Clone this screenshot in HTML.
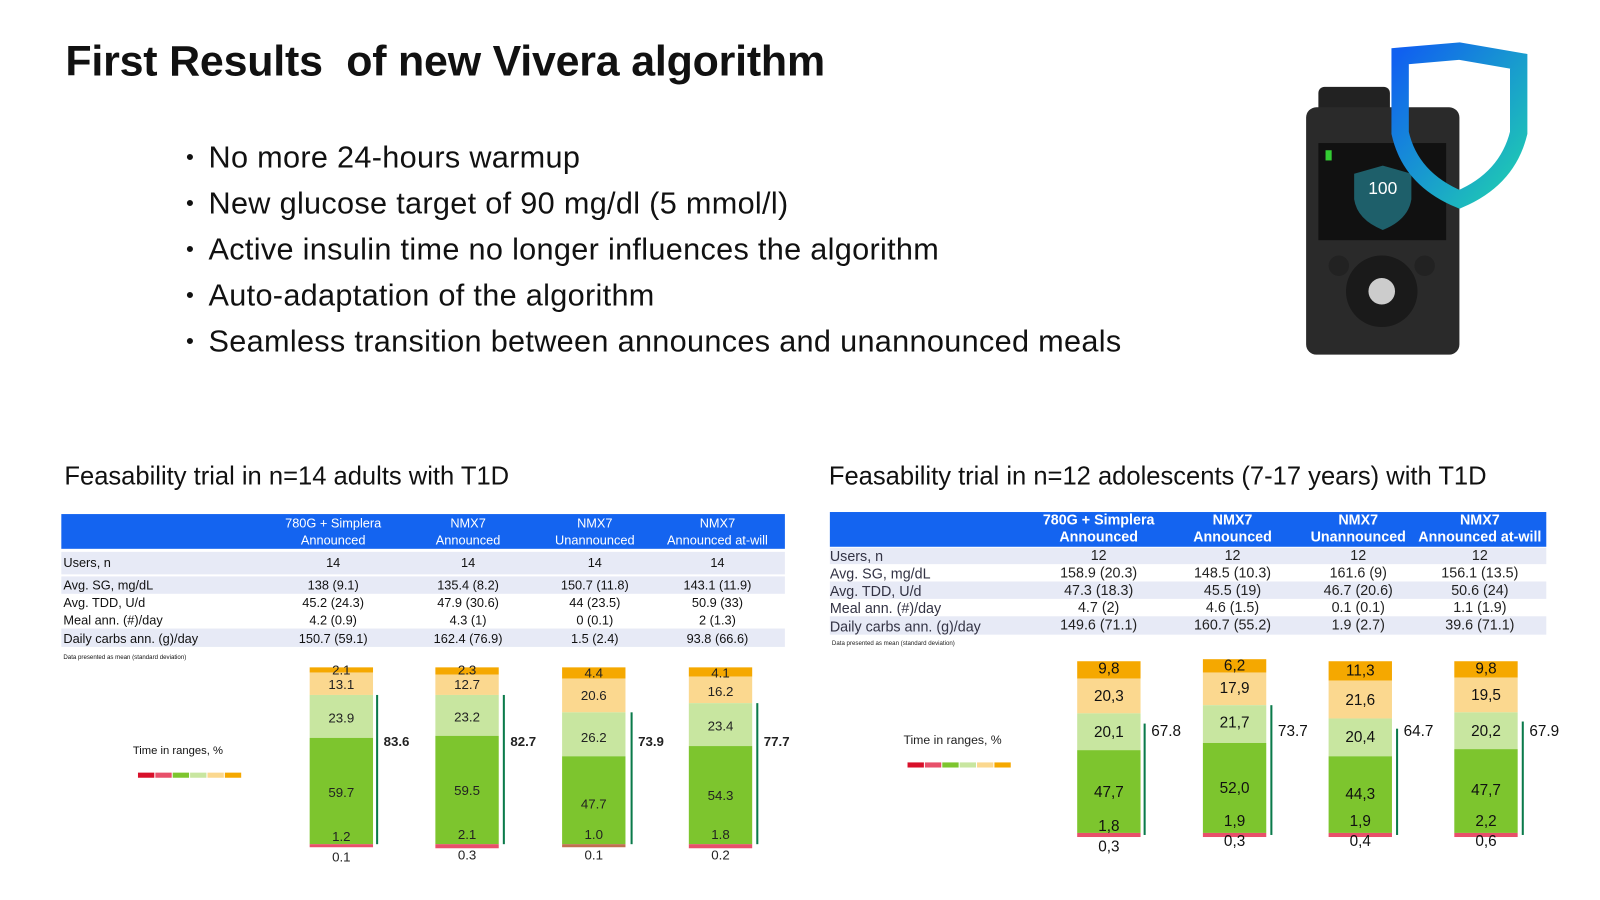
<!DOCTYPE html>
<html><head><meta charset="utf-8"><style>
body{margin:0;width:1600px;height:900px;background:#fff;overflow:hidden;font-family:"Liberation Sans",sans-serif;}
#w{position:absolute;left:0;top:0;width:1565px;height:881px;transform:scale(1.022);transform-origin:0 0}
.a{position:absolute;white-space:nowrap}
h1{position:absolute;left:64px;top:36px;margin:0;font-size:42px;font-weight:bold;color:#111;letter-spacing:-0.2px}
ul{position:absolute;left:182px;top:133px;margin:0;padding:0;list-style:none;font-size:30px;color:#111;letter-spacing:0.3px}
ul li{height:45px;line-height:42px}
ul li:before{content:"•";font-size:22px;margin-right:14px;vertical-align:3px}
.sub{font-size:25px;color:#111}
</style></head><body><div id="w">
<h1>First Results&nbsp; of new Vivera algorithm</h1>
<ul>
<li>No more 24-hours warmup</li>
<li>New glucose target of 90 mg/dl (5 mmol/l)</li>
<li>Active insulin time no longer influences the algorithm</li>
<li>Auto-adaptation of the algorithm</li>
<li>Seamless transition between announces and unannounced meals</li>
</ul>
<div class="a sub" style="left:63px;top:452px">Feasability trial in n=14 adults with T1D</div>
<div class="a sub" style="left:811px;top:452px">Feasability trial in n=12 adolescents (7-17 years) with T1D</div>

<svg class="a" style="left:0;top:0" width="1565" height="881" font-family="Liberation Sans, sans-serif">
<defs><linearGradient id="sh" x1="0" y1="0" x2="1" y2="1"><stop offset="0" stop-color="#1060f0"/><stop offset="1" stop-color="#20d0b0"/></linearGradient></defs>
<rect x="1290" y="85" width="70" height="30" rx="6" fill="#222"/>
<rect x="1278" y="105" width="150" height="242" rx="10" fill="#2a2a2a"/>
<rect x="1290" y="140" width="125" height="95" fill="#111"/>
<path d="M1325 170 L1353 162 L1381 170 L1381 195 Q1378 215 1353 225 Q1328 215 1325 195Z" fill="#1e5f6a"/>
<text x="1353" y="190" fill="#fff" font-size="17" text-anchor="middle">100</text>
<rect x="1297" y="147" width="6" height="10" fill="#3c3"/>
<circle cx="1352" cy="285" r="35" fill="#1a1a1a"/><circle cx="1352" cy="285" r="13" fill="#ccc"/>
<circle cx="1310" cy="260" r="10" fill="#222"/><circle cx="1394" cy="260" r="10" fill="#222"/>
<path d="M1370 55 L1428 50 L1486 60 L1486 130 Q1475 175 1428 195 Q1380 175 1370 130Z" fill="none" stroke="url(#sh)" stroke-width="17"/>

<g font-size="12.5" fill="#111">
<rect x="60" y="503" width="708" height="34" fill="#1464f0"/>
<rect x="60" y="540" width="708" height="22" fill="#e7eaf6"/>
<rect x="60" y="564" width="708" height="17" fill="#e7eaf6"/>
<rect x="60" y="615" width="708" height="18" fill="#e7eaf6"/>
<g fill="#fff" text-anchor="middle"><text x="326" y="516">780G + Simplera</text><text x="326" y="533">Announced</text>
<text x="458" y="516">NMX7</text><text x="458" y="533">Announced</text>
<text x="582" y="516">NMX7</text><text x="582" y="533">Unannounced</text>
<text x="702" y="516">NMX7</text><text x="702" y="533">Announced at-will</text></g>
<text x="62" y="555">Users, n</text><text x="62" y="577">Avg. SG, mg/dL</text><text x="62" y="594">Avg. TDD, U/d</text><text x="62" y="611">Meal ann. (#)/day</text><text x="62" y="629">Daily carbs ann. (g)/day</text>
<g text-anchor="middle">
<text x="326" y="555">14</text><text x="458" y="555">14</text><text x="582" y="555">14</text><text x="702" y="555">14</text>
<text x="326" y="577">138 (9.1)</text><text x="458" y="577">135.4 (8.2)</text><text x="582" y="577">150.7 (11.8)</text><text x="702" y="577">143.1 (11.9)</text>
<text x="326" y="594">45.2 (24.3)</text><text x="458" y="594">47.9 (30.6)</text><text x="582" y="594">44 (23.5)</text><text x="702" y="594">50.9 (33)</text>
<text x="326" y="611">4.2 (0.9)</text><text x="458" y="611">4.3 (1)</text><text x="582" y="611">0 (0.1)</text><text x="702" y="611">2 (1.3)</text>
<text x="326" y="629">150.7 (59.1)</text><text x="458" y="629">162.4 (76.9)</text><text x="582" y="629">1.5 (2.4)</text><text x="702" y="629">93.8 (66.6)</text>
</g>
<text x="62" y="645" font-size="6">Data presented as mean (standard deviation)</text>
<text x="130" y="738" font-size="11">Time in ranges, %</text>
</g>
<g><rect x="135" y="756" width="16" height="5" fill="#d8102a"/><rect x="152" y="756" width="16" height="5" fill="#e8506a"/><rect x="169" y="756" width="16" height="5" fill="#7dc52e"/><rect x="186" y="756" width="16" height="5" fill="#c8e6a0"/><rect x="203" y="756" width="16" height="5" fill="#fbd88f"/><rect x="220" y="756" width="16" height="5" fill="#f5a800"/></g>
<g><rect x="888" y="746" width="16" height="5" fill="#d8102a"/><rect x="905" y="746" width="16" height="5" fill="#e8506a"/><rect x="922" y="746" width="16" height="5" fill="#7dc52e"/><rect x="939" y="746" width="16" height="5" fill="#c8e6a0"/><rect x="956" y="746" width="16" height="5" fill="#fbd88f"/><rect x="973" y="746" width="16" height="5" fill="#f5a800"/></g>

<g font-size="13" fill="#222" text-anchor="middle">
<rect x="303" y="653" width="62" height="5" fill="#f5a800"/><rect x="303" y="658" width="62" height="22" fill="#fbd88f"/><rect x="303" y="680" width="62" height="42" fill="#c8e6a0"/><rect x="303" y="722" width="62" height="104" fill="#7dc52e"/><rect x="303" y="826" width="62" height="3" fill="#e8506a"/>
<text x="334" y="660">2.1</text><text x="334" y="674">13.1</text><text x="334" y="707">23.9</text><text x="334" y="780">59.7</text><text x="334" y="823">1.2</text><text x="334" y="843">0.1</text>
<rect x="368" y="680" width="2" height="146" fill="#0a7a4a"/><text x="388" y="730" font-weight="bold">83.6</text>
<rect x="426" y="653" width="62" height="7" fill="#f5a800"/><rect x="426" y="660" width="62" height="20" fill="#fbd88f"/><rect x="426" y="680" width="62" height="40" fill="#c8e6a0"/><rect x="426" y="720" width="62" height="106" fill="#7dc52e"/><rect x="426" y="826" width="62" height="4" fill="#e8506a"/>
<text x="457" y="660">2.3</text><text x="457" y="674">12.7</text><text x="457" y="706">23.2</text><text x="457" y="778">59.5</text><text x="457" y="821">2.1</text><text x="457" y="841">0.3</text>
<rect x="492" y="680" width="2" height="146" fill="#0a7a4a"/><text x="512" y="730" font-weight="bold">82.7</text>
<rect x="550" y="653" width="62" height="11" fill="#f5a800"/><rect x="550" y="664" width="62" height="33" fill="#fbd88f"/><rect x="550" y="697" width="62" height="43" fill="#c8e6a0"/><rect x="550" y="740" width="62" height="86" fill="#7dc52e"/><rect x="550" y="826" width="62" height="3" fill="#c07050"/>
<text x="581" y="663">4.4</text><text x="581" y="685">20.6</text><text x="581" y="726">26.2</text><text x="581" y="791">47.7</text><text x="581" y="821">1.0</text><text x="581" y="841">0.1</text>
<rect x="617" y="697" width="2" height="129" fill="#0a7a4a"/><text x="637" y="730" font-weight="bold">73.9</text>
<rect x="674" y="653" width="62" height="9" fill="#f5a800"/><rect x="674" y="662" width="62" height="26" fill="#fbd88f"/><rect x="674" y="688" width="62" height="42" fill="#c8e6a0"/><rect x="674" y="730" width="62" height="96" fill="#7dc52e"/><rect x="674" y="826" width="62" height="4" fill="#e8506a"/>
<text x="705" y="663">4.1</text><text x="705" y="681">16.2</text><text x="705" y="715">23.4</text><text x="705" y="783">54.3</text><text x="705" y="821">1.8</text><text x="705" y="841">0.2</text>
<rect x="740" y="688" width="2" height="138" fill="#0a7a4a"/><text x="760" y="730" font-weight="bold">77.7</text>
</g>

<g font-size="14" fill="#222">
<rect x="812" y="501" width="701" height="34" fill="#1464f0"/>
<rect x="812" y="536" width="701" height="16" fill="#e7eaf6"/>
<rect x="812" y="569" width="701" height="17" fill="#e7eaf6"/>
<rect x="812" y="603" width="701" height="18" fill="#e7eaf6"/>
<g fill="#fff" text-anchor="middle" font-weight="bold" font-size="14"><text x="1075" y="513">780G + Simplera</text><text x="1075" y="530">Announced</text>
<text x="1206" y="513">NMX7</text><text x="1206" y="530">Announced</text>
<text x="1329" y="513">NMX7</text><text x="1329" y="530">Unannounced</text>
<text x="1448" y="513">NMX7</text><text x="1448" y="530">Announced at-will</text></g>
<g fill="#334"><text x="812" y="549">Users, n</text><text x="812" y="566">Avg. SG, mg/dL</text><text x="812" y="583">Avg. TDD, U/d</text><text x="812" y="600">Meal ann. (#)/day</text><text x="812" y="618">Daily carbs ann. (g)/day</text></g>
<g text-anchor="middle">
<text x="1075" y="548">12</text><text x="1206" y="548">12</text><text x="1329" y="548">12</text><text x="1448" y="548">12</text>
<text x="1075" y="565">158.9 (20.3)</text><text x="1206" y="565">148.5 (10.3)</text><text x="1329" y="565">161.6 (9)</text><text x="1448" y="565">156.1 (13.5)</text>
<text x="1075" y="582">47.3 (18.3)</text><text x="1206" y="582">45.5 (19)</text><text x="1329" y="582">46.7 (20.6)</text><text x="1448" y="582">50.6 (24)</text>
<text x="1075" y="599">4.7 (2)</text><text x="1206" y="599">4.6 (1.5)</text><text x="1329" y="599">0.1 (0.1)</text><text x="1448" y="599">1.1 (1.9)</text>
<text x="1075" y="616">149.6 (71.1)</text><text x="1206" y="616">160.7 (55.2)</text><text x="1329" y="616">1.9 (2.7)</text><text x="1448" y="616">39.6 (71.1)</text>
</g>
<text x="814" y="631" font-size="6">Data presented as mean (standard deviation)</text>
<text x="884" y="728" font-size="12">Time in ranges, %</text>
</g>

<g font-size="15" fill="#111" text-anchor="middle">
<rect x="1054" y="647" width="62" height="17" fill="#f5a800"/><rect x="1054" y="664" width="62" height="34" fill="#fbd88f"/><rect x="1054" y="698" width="62" height="36" fill="#c8e6a0"/><rect x="1054" y="734" width="62" height="81" fill="#7dc52e"/><rect x="1054" y="815" width="62" height="4" fill="#e8506a"/>
<text x="1085" y="659">9,8</text><text x="1085" y="686">20,3</text><text x="1085" y="721">20,1</text><text x="1085" y="780">47,7</text><text x="1085" y="813">1,8</text><text x="1085" y="833">0,3</text>
<rect x="1119" y="708" width="2" height="109" fill="#0a7a4a"/><text x="1141" y="720">67.8</text>
<rect x="1177" y="645" width="62" height="13" fill="#f5a800"/><rect x="1177" y="658" width="62" height="32" fill="#fbd88f"/><rect x="1177" y="690" width="62" height="37" fill="#c8e6a0"/><rect x="1177" y="727" width="62" height="88" fill="#7dc52e"/><rect x="1177" y="815" width="62" height="4" fill="#e8506a"/>
<text x="1208" y="656">6,2</text><text x="1208" y="678">17,9</text><text x="1208" y="712">21,7</text><text x="1208" y="776">52,0</text><text x="1208" y="808">1,9</text><text x="1208" y="828">0,3</text>
<rect x="1243" y="690" width="2" height="127" fill="#0a7a4a"/><text x="1265" y="720">73.7</text>
<rect x="1300" y="647" width="62" height="19" fill="#f5a800"/><rect x="1300" y="666" width="62" height="37" fill="#fbd88f"/><rect x="1300" y="703" width="62" height="37" fill="#c8e6a0"/><rect x="1300" y="740" width="62" height="75" fill="#7dc52e"/><rect x="1300" y="815" width="62" height="4" fill="#e8506a"/>
<text x="1331" y="661">11,3</text><text x="1331" y="690">21,6</text><text x="1331" y="726">20,4</text><text x="1331" y="782">44,3</text><text x="1331" y="808">1,9</text><text x="1331" y="828">0,4</text>
<rect x="1366" y="713" width="2" height="104" fill="#0a7a4a"/><text x="1388" y="720">64.7</text>
<rect x="1423" y="647" width="62" height="16" fill="#f5a800"/><rect x="1423" y="663" width="62" height="34" fill="#fbd88f"/><rect x="1423" y="697" width="62" height="36" fill="#c8e6a0"/><rect x="1423" y="733" width="62" height="82" fill="#7dc52e"/><rect x="1423" y="815" width="62" height="4" fill="#e8506a"/>
<text x="1454" y="659">9,8</text><text x="1454" y="685">19,5</text><text x="1454" y="720">20,2</text><text x="1454" y="778">47,7</text><text x="1454" y="808">2,2</text><text x="1454" y="828">0,6</text>
<rect x="1489" y="706" width="2" height="111" fill="#0a7a4a"/><text x="1511" y="720">67.9</text>
</g>
</svg>
</div></body></html>
